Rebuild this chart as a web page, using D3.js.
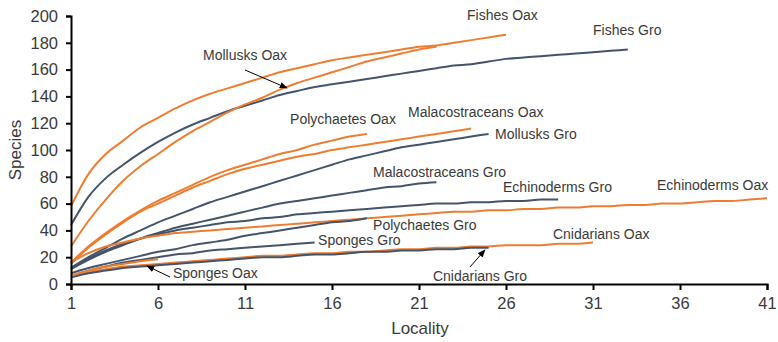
<!DOCTYPE html>
<html><head><meta charset="utf-8">
<script src="https://cdn.jsdelivr.net/npm/d3@7"></script>
<style>body{margin:0;background:#fff}svg{display:block}</style>
</head><body>
<svg id="chart" width="778" height="342"></svg>
<script>
// ---- data ----
const seriesNames = ["Fishes Oax","Fishes Gro","Mollusks Oax","Polychaetes Oax","Malacostraceans Oax","Mollusks Gro","Malacostraceans Gro","Echinoderms Gro","Echinoderms Oax","Polychaetes Gro","Sponges Gro","Cnidarians Oax","Cnidarians Gro","Sponges Oax"];
const seriesRegion = ["Oax","Gro","Oax","Oax","Oax","Gro","Gro","Gro","Oax","Gro","Gro","Oax","Gro","Oax"];
const fishesOax = [58,82,97,107,117,124,131,137,142,146,150,154,158,161,164,167,169,171,173,175,177,178,180,182,184,186];
const fishesGro = [44,65,79,89,98,106,113,119,124,129,133,137,141,144,147,149,151,153,155,157,159,161,163,164,166,168,169,170,171,172,173,174,175];
const mollusksOax = [28,47,63,77,88,97,106,114,121,128,134,139,145,150,154,158,162,166,169,172,175,177];
const polychaetesOax = [16,28,38,47,55,62,68,74,80,85,89,93,97,100,104,107,110,112];
const malacostraceansOax = [15,27,37,46,54,60,66,72,77,82,86,89,92,95,97,100,102,104,106,108,110,112,114,116];
const mollusksGro = [12,20,27,34,40,46,51,56,61,65,69,73,77,81,85,89,93,96,99,102,104,106,108,110,112];
const malacostraceansGro = [11,18,24,29,34,38,42,45,48,51,54,57,60,62,64,66,68,70,72,73,75,76];
const echinodermsGro = [12,19,25,30,34,37,40,42,44,46,47,49,50,52,53,54,55,56,57,58,59,60,60,61,61,62,62,63,63];
const echinodermsOax = [16,23,28,31,34,36,38,39,40,41,42,43,44,45,46,47,48,49,50,51,52,53,54,54,55,55,56,56,57,57,58,58,59,59,60,60,61,62,62,63,64];
const polychaetesGro = [8,12,15,18,21,24,26,29,31,33,36,38,40,42,44,46,47,49];
const spongesGro = [6,10,13,16,18,20,22,23,25,26,27,28,29,30,31];
const cnidariansOax = [6,9,11,13,14,15,16,17,18,19,20,21,21,22,23,23,24,24,25,26,26,27,27,28,28,29,29,29,30,30,31];
const cnidariansGro = [5,8,10,12,13,14,15,16,17,18,19,20,20,21,22,22,23,24,24,25,25,26,26,27,27];
const spongesOax = [6,10,13,15,17,18.5];
const seriesValues = [fishesOax,fishesGro,mollusksOax,polychaetesOax,malacostraceansOax,mollusksGro,malacostraceansGro,echinodermsGro,echinodermsOax,polychaetesGro,spongesGro,cnidariansOax,cnidariansGro,spongesOax];
const xTicks = [1,6,11,16,21,26,31,36,41];
const yTicks = [0,20,40,60,80,100,120,140,160,180,200];
// label anchors in data units (locality, species)
const labelLoc = [23.76,31.0,8.59,13.59,20.37,25.37,18.36,25.83,34.68,18.36,15.2,28.7,21.8,6.86];
const labelVal = [200.7,189.6,170.9,123.1,128.4,111.9,83.6,72.4,73.9,44.0,32.8,37.3,6.0,8.2];
// arrows: [tailLoc, tailVal], [tipLoc, tipVal]
const arrowNames = ["Mollusks Oax","Sponges Oax","Cnidarians Gro"];
const arrowTail = [[11.0,159.7],[6.69,5.2],[23.93,12.7]];
const arrowTip = [[13.41,146.3],[5.37,13.4],[24.79,25.4]];

// ---- drawing ----
const svg = d3.select("#chart");
const x = d3.scaleLinear().domain([1,41]).range([71,767]);
const y = d3.scaleLinear().domain([0,200]).range([284,16]);
const colors = {Oax:"#ED7D31", Gro:"#44546A"};
const font = "'Liberation Sans', Arial, sans-serif";

const line = d3.line().x((d,i)=>x(i+1)).y(d=>y(d)).curve(d3.curveMonotoneX);
svg.append("g").selectAll("path").data(seriesValues).join("path")
  .attr("d", line).attr("fill","none")
  .attr("stroke",(d,i)=>colors[seriesRegion[i]]).attr("stroke-width",2)
  .attr("stroke-linejoin","round");

// axes
const xAxis = svg.append("g").attr("transform","translate(0,284)")
  .call(d3.axisBottom(x).tickValues(xTicks).tickSize(6).tickPadding(7).tickFormat(d3.format("d")));
const yAxis = svg.append("g").attr("transform","translate(71,0)")
  .call(d3.axisLeft(y).tickValues(yTicks).tickSize(5).tickPadding(8).tickFormat(d3.format("d")));
[xAxis,yAxis].forEach(g=>{
  g.select(".domain").attr("stroke","#000").attr("stroke-width",2);
  g.selectAll(".tick line").attr("stroke","#000").attr("stroke-width",2);
  g.selectAll(".tick text").attr("fill","#3a3a3a").attr("font-size",16.5).attr("font-family",font);
});

svg.append("text").attr("x",420).attr("y",334).attr("text-anchor","middle")
  .attr("font-family",font).attr("font-size",17).attr("fill","#3a3a3a").text("Locality");
svg.append("text").attr("transform","translate(21,150) rotate(-90)").attr("text-anchor","middle")
  .attr("font-family",font).attr("font-size",17).attr("fill","#3a3a3a").text("Species");

// labels
svg.append("g").selectAll("text").data(seriesNames).join("text")
  .attr("x",(d,i)=>x(labelLoc[i])).attr("y",(d,i)=>y(labelVal[i])+5)
  .attr("font-family",font).attr("font-size",14).attr("fill","#3a3a3a").text(d=>d);

// arrows
const defs = svg.append("defs");
defs.append("marker").attr("id","ah").attr("viewBox","0 0 10 10").attr("refX",9).attr("refY",5)
  .attr("markerWidth",8).attr("markerHeight",8).attr("orient","auto-start-reverse")
  .append("path").attr("d","M0,1 L10,5 L0,9 Z").attr("fill","#000");
svg.append("g").selectAll("line").data(arrowNames).join("line")
  .attr("x1",(d,i)=>x(arrowTail[i][0])).attr("y1",(d,i)=>y(arrowTail[i][1]))
  .attr("x2",(d,i)=>x(arrowTip[i][0])).attr("y2",(d,i)=>y(arrowTip[i][1]))
  .attr("stroke","#000").attr("stroke-width",1).attr("marker-end","url(#ah)");
</script>
</body></html>
